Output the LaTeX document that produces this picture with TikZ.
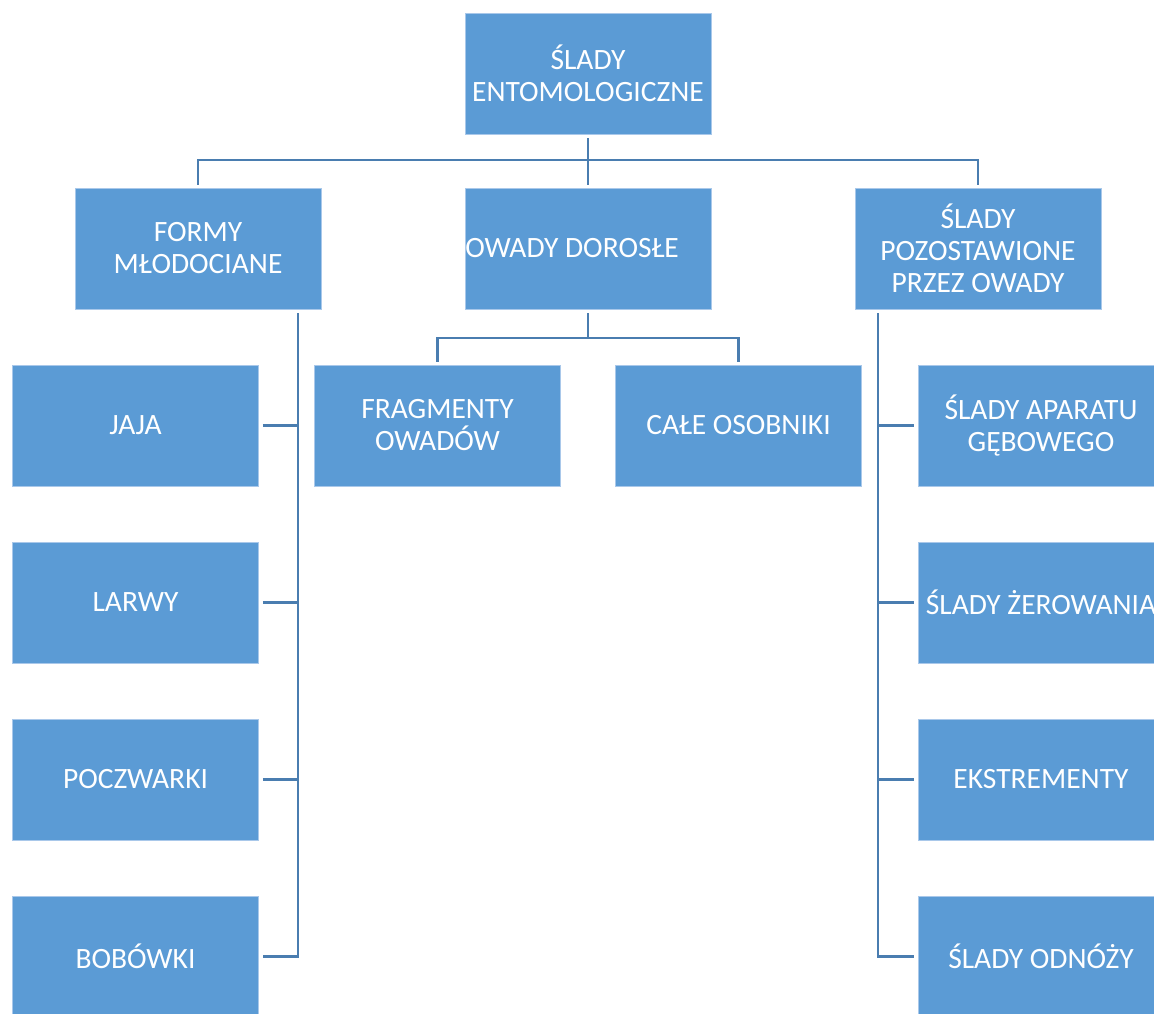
\documentclass[tikz,border=0pt]{standalone}
\usepackage{fontspec}
\setmainfont{Carlito}
\usetikzlibrary{calc}
\definecolor{boxfill}{HTML}{5B9BD5}
\definecolor{boxedge}{HTML}{A9C8EA}
\definecolor{linecol}{HTML}{4A7DB0}
\tikzset{
  box/.style={rectangle, fill=boxfill, draw=boxedge, line width=0.8pt,
    minimum width=246pt, minimum height=121pt, inner sep=0pt,
    text=white, align=center, font=\fontsize{29.5}{32}\selectfont},
  lbl/.style={text=white, align=center, inner sep=0pt, font=\fontsize{29.5}{32}\selectfont},
  conn/.style={draw=linecol, line width=2.8pt}
}
\begin{document}
\begin{tikzpicture}[x=1pt,y=-1pt]
\useasboundingbox (0,0) rectangle (1154,1014);
\clip (0,0) rectangle (1154,1014);
\fill[white] (0,0) rectangle (1154,1014);
% level 0
\node[box] (top) at (588,73.5) {ŚLADY\\ENTOMOLOGICZNE};
% level 1
\node[box] (formy) at (198,248.5) {FORMY\\MŁODOCIANE};
\node[box] (owady) at (588,248.5) {};
\node[lbl] (owadyT) at (572,248.5) {OWADY DOROSŁE};
\node[box] (sladyp) at (978,248.5) {ŚLADY\\POZOSTAWIONE\\PRZEZ OWADY};
% left column
\node[box] (jaja) at (135.5,425.5) {JAJA};
\node[box] (larwy) at (135.5,602.5) {LARWY};
\node[box] (pocz) at (135.5,779.5) {POCZWARKI};
\node[box] (bob) at (135.5,956.5) {BOBÓWKI};
% middle
\node[box] (frag) at (437.5,425.5) {FRAGMENTY\\OWADÓW};
\node[box] (cale) at (738.5,425.5) {CAŁE OSOBNIKI};
% right column
\node[box] (apar) at (1041,425.5) {ŚLADY APARATU\\GĘBOWEGO};
\node[box] (zer) at (1041,602.5) {ŚLADY ŻEROWANIA};
\node[box] (ekst) at (1041,779.5) {EKSTREMENTY};
\node[box] (odn) at (1041,956.5) {ŚLADY ODNÓŻY};
% connectors top
\coordinate (b1) at (0,160);
\draw[conn] ($(top.south)+(0,4)$) -- ($(top.south |- owady.north)+(0,-3)$);
\draw[conn] ($(formy.north)+(0,-3)$) |- (sladyp.north |- b1) -- ($(sladyp.north)+(0,-3)$);
% middle connectors
\coordinate (b2) at (0,338);
\draw[conn] ($(owady.south)+(0,4)$) -- (owady.south |- b2);
\draw[conn] ($(frag.north)+(0,-3)$) |- (cale.north |- b2) -- ($(cale.north)+(0,-3)$);
% left column connectors
\coordinate (vl) at (298,313);
\draw[conn] (vl) |- ($(bob.east)+(4,0)$);
\draw[conn] ($(jaja.east)+(4,0)$) -- (jaja.east -| vl);
\draw[conn] ($(larwy.east)+(4,0)$) -- (larwy.east -| vl);
\draw[conn] ($(pocz.east)+(4,0)$) -- (pocz.east -| vl);
% right column connectors
\coordinate (vr) at (878,313);
\draw[conn] (vr) |- ($(odn.west)+(-4,0)$);
\draw[conn] ($(apar.west)+(-4,0)$) -- (apar.west -| vr);
\draw[conn] ($(zer.west)+(-4,0)$) -- (zer.west -| vr);
\draw[conn] ($(ekst.west)+(-4,0)$) -- (ekst.west -| vr);
\end{tikzpicture}
\end{document}
